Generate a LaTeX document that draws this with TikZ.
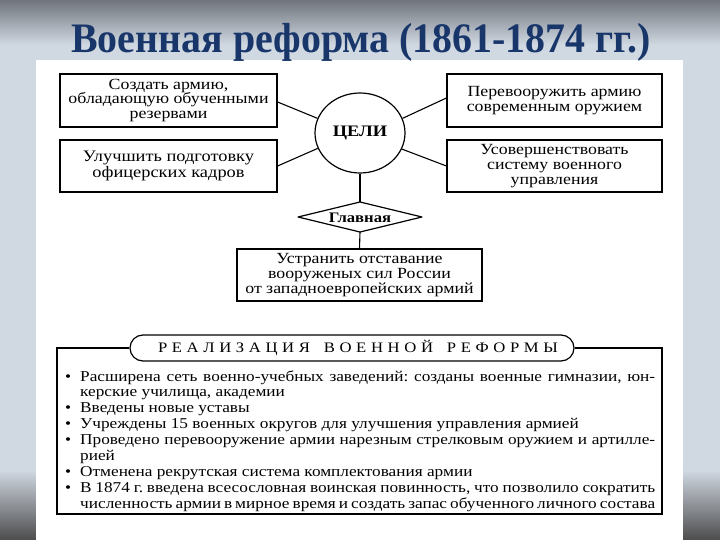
\documentclass[tikz,border=0pt]{standalone}
\usepackage{fontspec}
\setmainfont[FakeStretch=1.15]{Liberation Serif}
\newfontfamily\titlefont[FakeStretch=0.95]{Liberation Serif}
\usetikzlibrary{shapes.geometric}
\definecolor{titleblue}{RGB}{24,54,106}
\definecolor{slidetop}{RGB}{112,117,124}
\definecolor{slidebg}{RGB}{208,216,226}
\newcommand\lbul{\makebox[15pt][l]{•}}
\begin{document}
\frenchspacing
\begin{tikzpicture}[x=1pt,y=-1pt,
  box/.style={draw,line width=1.2pt,align=center,inner sep=0pt,font=\fontsize{15.5}{14.8}\selectfont,execute at begin node={\rule{0pt}{16pt}}},
  link/.style={line width=1.1pt},
  listline/.style={anchor=base west,inner sep=0pt,font=\fontsize{15}{15}\selectfont}]
\useasboundingbox (0,0) rectangle (720,540);
\fill[slidebg] (0,0) rectangle (720,540);
\shade[top color=slidetop,bottom color=slidebg] (0,0) rectangle (720,45);
\shade[top color=slidebg,bottom color=black!70] (0,470) rectangle (36,540);
\shade[top color=slidebg,bottom color=black!70] (683,470) rectangle (720,540);
\fill[white] (36,60) rectangle (683,540);

\node[anchor=base,text=titleblue,inner sep=0pt,font=\titlefont\bfseries\fontsize{42}{42}\selectfont] (title) at (361,53) {Военная реформа (1861-1874 гг.)};

\node[box,minimum width=217pt,minimum height=53pt] (b1) at (168.5,100.5) {Создать армию,\\обладающую обученными\\резервами};
\node[box,minimum width=217pt,minimum height=52pt,font=\fontsize{16}{16}\selectfont] (b2) at (168.5,166) {Улучшить подготовку\\офицерских кадров};
\node[box,minimum width=215pt,minimum height=53pt] (b3) at (554.5,100.5) {Перевооружить армию\\современным оружием};
\node[box,minimum width=215pt,minimum height=52pt] (b4) at (554.5,166) {Усовершенствовать\\систему военного\\управления};
\node[draw,line width=1.2pt,ellipse,minimum width=90pt,minimum height=80pt,inner sep=0pt,font=\bfseries\fontsize{16}{16}\selectfont] (goals) at (360,133) {ЦЕЛИ};

\coordinate (dl) at (298,217);
\coordinate (dt) at (360,202);
\coordinate (dr) at (422,217);
\coordinate (db) at (360,232);
\draw[line width=1.2pt,line join=round] (dl) -- (dt) -- (dr) -- (db) -- cycle;
\node[inner sep=0pt,font=\bfseries\fontsize{14.5}{14.5}\selectfont] (main) at (360,217.5) {Главная};

\node[box,minimum width=245pt,minimum height=52pt,execute at begin node={\rule{0pt}{18pt}}] (b5) at (359.5,275) {Устранить отставание\\вооруженых сил России\\от западноевропейских армий};

\draw[link] ([yshift=-1.5pt]b1.east) -- (goals.161);
\draw[link] (b2.east) -- (goals.200);
\draw[link] ([yshift=2.5pt]b3.west) -- (goals.19);
\draw[link] (b4.west) -- (goals.339);
\draw[link] (goals.south) -- (dt);
\draw[link] (db) -- (b5.north);

\node[draw,line width=1.2pt,rounded corners=13pt,minimum width=444pt,minimum height=26pt,inner sep=0pt,font=\fontsize{14.5}{14.5}\selectfont] (impl) at (352,348) {\hspace*{12pt}\makebox[400pt]{Р\hfill Е\hfill А\hfill Л\hfill И\hfill З\hfill А\hfill Ц\hfill И\hfill Я\hfill\hfill\hfill В\hfill О\hfill Е\hfill Н\hfill Н\hfill О\hfill Й\hfill\hfill\hfill Р\hfill Е\hfill Ф\hfill О\hfill Р\hfill М\hfill Ы}};
\coordinate (ftl) at (57,348);
\coordinate (fbl) at (57,514);
\coordinate (fbr) at (662,514);
\coordinate (ftr) at (662,348);
\draw[line width=1.2pt] (impl.west) -- (ftl) -- (fbl) -- (fbr) -- (ftr) -- (impl.east);

\node[listline] (l1) at (65,381) {\lbul\makebox[575pt][s]{Расширена сеть военно-учебных заведений: созданы военные гимназии, юн-}};
\node[listline] (l2) at (80,396.9) {керские училища, академии};
\node[listline] (l3) at (65,412.8) {\lbul Введены новые уставы};
\node[listline] (l4) at (65,428.7) {\lbul Учреждены 15 военных округов для улучшения управления армией};
\node[listline] (l5) at (65,444.6) {\lbul\makebox[575pt][s]{Проведено перевооружение армии нарезным стрелковым оружием и артилле-}};
\node[listline] (l6) at (80,460.5) {рией};
\node[listline] (l7) at (65,476.4) {\lbul Отменена рекрутская система комплектования армии};
\node[listline] (l8) at (65,492.3) {\lbul\makebox[575pt][s]{В 1874 г. введена всесословная воинская повинность, что позволило сократить}};
\node[listline] (l9) at (80,508.2) {\makebox[575pt][s]{численность армии в мирное время и создать запас обученного личного состава}};
\end{tikzpicture}
\end{document}
